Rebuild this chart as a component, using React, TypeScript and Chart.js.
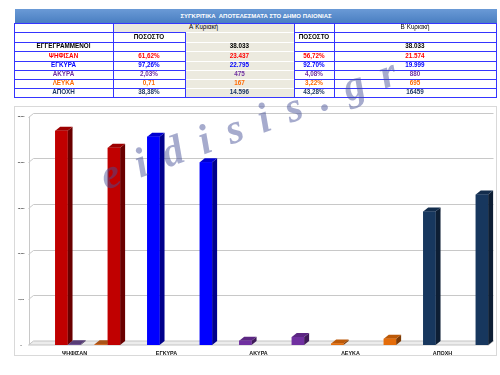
import React, { useEffect, useRef } from 'react';
import { Chart, registerables } from 'chart.js';

Chart.register(...registerables);

// ---------- chart data ----------
const categories = ['ΨΗΦΙΣΑΝ', 'ΕΓΚΥΡΑ', 'ΑΚΥΡΑ', 'ΛΕΥΚΑ', 'ΑΠΟΧΗ'];
const roundA = [23437, 22795, 475, 167, 14596];
const roundB = [21574, 19999, 880, 695, 16459];
const smallPurple = [80, null, null, null, null];
const smallOrange = [80, null, null, null, null];
const emptySeries = [null, null, null, null, null];
const barColors = ['#c00000', '#0000ff', '#7030a0', '#e46c0a', '#17375e'];
const yMax = 25000;
const yStep = 5000;

// ---------- table data ----------
const tableTitle = 'ΣΥΓΚΡΙΤΙΚΑ  ΑΠΟΤΕΛΕΣΜΑΤΑ ΣΤΟ ΔΗΜΟ ΠΑΙΟΝΙΑΣ';
const roundNames = ['Α΄Κυριακή', 'Β΄Κυριακή'];
const pctHeader = 'ΠΟΣΟΣΤΟ';
const registeredLabel = 'ΕΓΓΕΓΡΑΜΜΕΝΟΙ';
const registered = ['38.033', '38.033'];
const rowColors = ['#ff0000', '#0000ff', '#7030a0', '#ff6a00', '#1f3864'];
const pctA = ['61,62%', '97,26%', '2,03%', '0,71', '38,38%'];
const valA = ['23.437', '22.795', '475', '167', '14.596'];
const pctB = ['56,72%', '92.70%', '4,08%', '3,22%', '43,28%'];
const valB = ['21.574', '19.999', '880', '695', '16459'];
const watermark = 'eidisis.gr';

// ---------- layout ----------
const colX = [14, 113, 185, 294, 334, 496];
const rowY = [23, 32, 42, 51, 61, 70, 79, 88, 97];
const LINE = '#3535ff';
const BEIGE = '#eceadf';
const FONT = '"Liberation Sans", Arial, sans-serif';
const DX = 5;
const DY = 4;

function shade(hex: string, f: number) {
  const n = parseInt(hex.slice(1), 16);
  const r = Math.round(((n >> 16) & 255) * f);
  const g = Math.round(((n >> 8) & 255) * f);
  const b = Math.round((n & 255) * f);
  return `rgb(${r},${g},${b})`;
}

const bars3d = {
  id: 'bars3d',
  beforeDatasetsDraw(chart: any) {
    const { ctx, chartArea: a } = chart;
    const y = chart.scales.y;
    ctx.save();
    ctx.lineWidth = 1;
    ctx.strokeStyle = '#d9d9d9';
    ctx.strokeRect(14.5, 106.5, 482, 249);
    const y0 = y.getPixelForValue(0);
    ctx.beginPath();
    ctx.moveTo(a.left, y0);
    ctx.lineTo(a.right, y0);
    ctx.lineTo(a.right + DX, y0 - DY);
    ctx.lineTo(a.left + DX, y0 - DY);
    ctx.closePath();
    ctx.fillStyle = '#ececec';
    ctx.fill();
    ctx.strokeStyle = '#c4c4c4';
    ctx.stroke();
    ctx.strokeStyle = '#c8c8c8';
    y.ticks.forEach((t: any) => {
      if (t.value === 0) return;
      const py = Math.round(y.getPixelForValue(t.value)) + 0.5;
      ctx.beginPath();
      ctx.moveTo(a.left, py);
      ctx.lineTo(a.left + DX, py - DY);
      ctx.lineTo(a.right + DX, py - DY);
      ctx.stroke();
    });
    ctx.beginPath();
    ctx.moveTo(Math.round(a.left) + 0.5, y.getPixelForValue(yMax));
    ctx.lineTo(Math.round(a.left) + 0.5, y0);
    ctx.stroke();
    ctx.restore();
  },
  afterDatasetsDraw(chart: any) {
    const { ctx } = chart;
    const items: any[] = [];
    chart.data.datasets.forEach((ds: any, di: number) => {
      const meta = chart.getDatasetMeta(di);
      meta.data.forEach((el: any, i: number) => {
        const v = ds.data[i];
        if (v === null || v === undefined) return;
        const p = el.getProps(['x', 'y', 'base', 'width'], true);
        const col = Array.isArray(ds.backgroundColor) ? ds.backgroundColor[i] : ds.backgroundColor;
        items.push({ ...p, col });
      });
    });
    items.sort((m, n) => m.x - n.x);
    ctx.save();
    items.forEach((b) => {
      const l = b.x - b.width / 2;
      const r = b.x + b.width / 2;
      const t = Math.min(b.y, b.base - 0.5);
      const bt = b.base;
      ctx.fillStyle = shade(b.col, 0.55);
      ctx.beginPath();
      ctx.moveTo(r, bt);
      ctx.lineTo(r + DX, bt - DY);
      ctx.lineTo(r + DX, t - DY);
      ctx.lineTo(r, t);
      ctx.closePath();
      ctx.fill();
      ctx.fillStyle = shade(b.col, 0.82);
      ctx.beginPath();
      ctx.moveTo(l, t);
      ctx.lineTo(r, t);
      ctx.lineTo(r + DX, t - DY);
      ctx.lineTo(l + DX, t - DY);
      ctx.closePath();
      ctx.fill();
      ctx.fillStyle = b.col;
      ctx.fillRect(l, t, r - l, bt - t);
    });
    ctx.restore();
  },
};

function ChartCanvas() {
  const ref = useRef<HTMLCanvasElement | null>(null);
  useEffect(() => {
    if (!ref.current) return;
    const mk = (label: string, data: (number | null)[], colors: string | string[]) => ({
      label,
      data,
      backgroundColor: colors,
      borderWidth: 0,
      barPercentage: 0.94,
      categoryPercentage: 1,
    });
    const chart = new Chart(ref.current, {
      type: 'bar',
      data: {
        labels: categories,
        datasets: [
          mk('', emptySeries, '#ffffff'),
          mk('', emptySeries, '#ffffff'),
          mk(roundNames[0], roundA, barColors),
          mk('Σειρά 2', smallPurple, '#6a4a90'),
          mk('', emptySeries, '#ffffff'),
          mk('Σειρά 3', smallOrange, '#d0651c'),
          mk(roundNames[1], roundB, barColors),
        ],
      },
      options: {
        animation: false,
        responsive: false,
        devicePixelRatio: 1,
        layout: { padding: { left: 14, right: 11.5, top: 116.5, bottom: 18 } },
        plugins: { legend: { display: false }, tooltip: { enabled: false } },
        scales: {
          x: {
            grid: { display: false, drawTicks: false },
            border: { display: false },
            ticks: {
              font: { family: FONT, size: 5.4, weight: 'bold' },
              color: '#111',
              padding: 5.5,
              maxRotation: 0,
              autoSkip: false,
            },
            afterFit: (s: any) => {
              s.height = 12;
            },
          },
          y: {
            min: 0,
            max: yMax,
            grid: { display: false, drawTicks: false },
            border: { display: false },
            ticks: {
              stepSize: yStep,
              font: { family: FONT, size: 2.2, weight: 'bold' },
              color: '#222',
              crossAlign: 'center',
              padding: 4,
            },
            afterFit: (s: any) => {
              s.width = 14.5;
            },
          },
        },
      },
      plugins: [bars3d],
    } as any);
    return () => chart.destroy();
  }, []);
  return <canvas ref={ref} width={500} height={375} style={{ position: 'absolute', left: 0, top: 0, width: 500, height: 375 }} />;
}

function Cell(props: { c0: number; c1: number; r: number; text: string; color?: string; bg?: string; weight?: string; size?: number }) {
  const { c0, c1, r, text, color = '#000', bg, weight = 'bold', size = 6.3 } = props;
  return (
    <div
      style={{
        position: 'absolute',
        left: colX[c0],
        top: rowY[r],
        width: colX[c1] - colX[c0],
        height: rowY[r + 1] - rowY[r],
        background: bg || 'transparent',
        color,
        fontFamily: FONT,
        fontWeight: weight as any,
        fontSize: size,
        display: 'flex',
        alignItems: 'center',
        justifyContent: 'center',
        whiteSpace: 'pre',
        lineHeight: 1,
      }}
    >
      {text}
    </div>
  );
}

function Line(props: { x: number; y: number; w: number; h: number; color?: string }) {
  return <div style={{ position: 'absolute', left: props.x, top: props.y, width: props.w, height: props.h, background: props.color || LINE }} />;
}

function Table() {
  const cells: React.ReactNode[] = [];
  cells.push(<div key="bg1" style={{ position: 'absolute', left: colX[1], top: rowY[0], width: colX[3] - colX[1], height: rowY[1] - rowY[0], background: BEIGE }} />);
  cells.push(<div key="bg3" style={{ position: 'absolute', left: colX[2], top: rowY[1], width: colX[3] - colX[2], height: rowY[8] - rowY[1], background: BEIGE }} />);
  const lines: React.ReactNode[] = [];
  rowY.forEach((yy, i) => {
    const edge = i === 0 || i === rowY.length - 1;
    lines.push(<Line key={'h1' + i} x={colX[0]} y={yy} w={colX[2] - colX[0]} h={1} />);
    lines.push(<Line key={'h2' + i} x={colX[2]} y={yy} w={colX[3] - colX[2]} h={1} color={edge ? LINE : '#ffffff'} />);
    lines.push(<Line key={'h3' + i} x={colX[3]} y={yy} w={colX[5] - colX[3] + 1} h={1} />);
  });
  colX.forEach((xx, i) => {
    const top = i === 2 ? rowY[1] : rowY[0];
    lines.push(<Line key={'v' + i} x={xx} y={top} w={1} h={rowY[8] - top + 1} />);
  });
  cells.push(<Cell key="rA" c0={1} c1={3} r={0} text={roundNames[0]} weight="normal" />);
  cells.push(<Cell key="rB" c0={4} c1={5} r={0} text={roundNames[1]} weight="normal" />);
  cells.push(<Cell key="pA" c0={1} c1={2} r={1} text={pctHeader} />);
  cells.push(<Cell key="pB" c0={3} c1={4} r={1} text={pctHeader} />);
  cells.push(<Cell key="reg" c0={0} c1={1} r={2} text={registeredLabel} />);
  cells.push(<Cell key="regA" c0={2} c1={3} r={2} text={registered[0]} />);
  cells.push(<Cell key="regB" c0={4} c1={5} r={2} text={registered[1]} />);
  categories.forEach((cat, i) => {
    const r = 3 + i;
    const c = rowColors[i];
    cells.push(<Cell key={'l' + i} c0={0} c1={1} r={r} text={cat} color={c} />);
    cells.push(<Cell key={'pa' + i} c0={1} c1={2} r={r} text={pctA[i]} color={c} />);
    cells.push(<Cell key={'va' + i} c0={2} c1={3} r={r} text={valA[i]} color={c} />);
    cells.push(<Cell key={'pb' + i} c0={3} c1={4} r={r} text={pctB[i]} color={c} />);
    cells.push(<Cell key={'vb' + i} c0={4} c1={5} r={r} text={valB[i]} color={c} />);
  });
  return (
    <>
      <div
        style={{
          position: 'absolute',
          left: 15,
          top: 9,
          width: 482,
          height: 14,
          background: 'linear-gradient(#6a9ad6, #4a7fc2)',
          color: '#fff',
          fontFamily: FONT,
          fontWeight: 'bold',
          fontSize: 6,
          display: 'flex',
          alignItems: 'center',
          justifyContent: 'center',
          whiteSpace: 'pre',
        }}
      >
        {tableTitle}
      </div>
      {cells}
      {lines}
    </>
  );
}

export default function App() {
  return (
    <div style={{ position: 'absolute', left: 0, top: 0, width: 500, height: 375, background: '#fff', overflow: 'hidden' }}>
      <ChartCanvas />
      <Table />
      <div
        style={{
          position: 'absolute',
          left: 106,
          top: 155,
          fontFamily: '"Liberation Serif", "Times New Roman", serif',
          fontStyle: 'italic',
          fontWeight: 'bold',
          fontSize: 42,
          lineHeight: '42px',
          letterSpacing: 17.5,
          color: 'rgba(70,80,150,0.48)',
          whiteSpace: 'pre',
          transform: 'rotate(-20deg)',
          transformOrigin: '0px 35px',
          pointerEvents: 'none',
        }}
      >
        {watermark}
      </div>
    </div>
  );
}
